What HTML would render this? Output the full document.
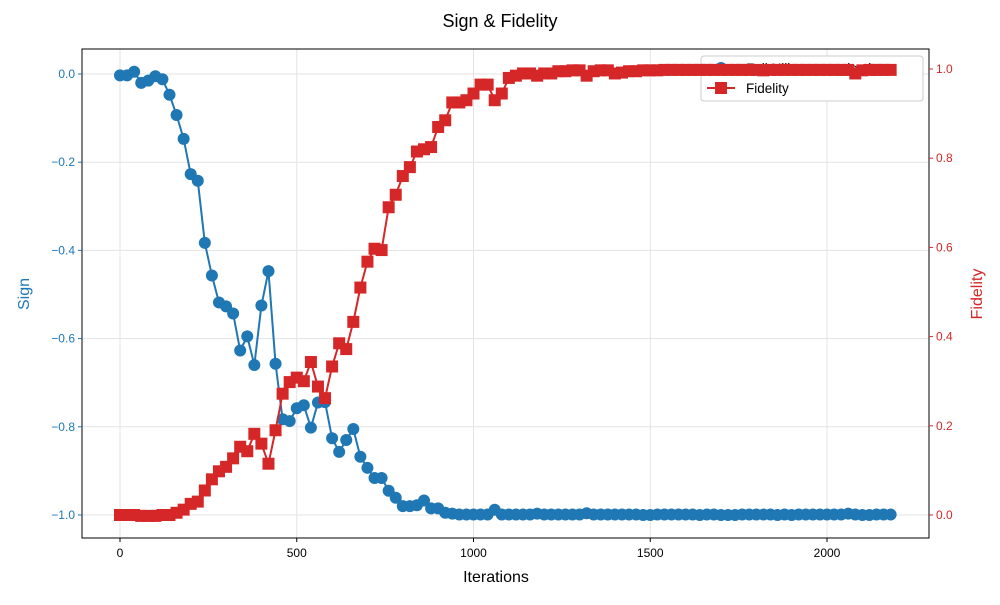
<!DOCTYPE html>
<html><head><meta charset="utf-8"><style>
body{margin:0;background:#fff;}
svg{font-family:"Liberation Sans","DejaVu Sans",sans-serif;}
</style></head><body>
<svg id="chart" width="1000" height="600">
<rect width="1000" height="600" fill="#fff"/>
<text x="500" y="27" font-size="18" text-anchor="middle" fill="#000">Sign &amp; Fidelity</text>
<g id="grid"></g>
<g id="series1"></g>
<g>
<rect x="701" y="56" width="222" height="45" rx="3" fill="#fff" stroke="#ccc"/>
<line x1="707" y1="68" x2="735" y2="68" stroke="#1f77b4" stroke-width="2"/>
<circle cx="721" cy="68" r="6" fill="#1f77b4"/>
<text x="746" y="73" font-size="13.5">Full Hilbert sample sign</text>
<line x1="707" y1="88" x2="735" y2="88" stroke="#d62728" stroke-width="2"/>
<rect x="715" y="82" width="12" height="12" fill="#d62728"/>
<text x="746" y="93" font-size="13.5">Fidelity</text>
</g>
<g id="series2"></g>
<rect x="82" y="49" width="847" height="489" fill="none" stroke="#000" stroke-width="1"/>
<g id="axes"></g>
<text x="496" y="582" font-size="16" text-anchor="middle">Iterations</text>
<text x="29" y="294" font-size="16" text-anchor="middle" fill="#1f77b4" transform="rotate(-90 29 294)">Sign</text>
<text x="982" y="294" font-size="16" text-anchor="middle" fill="#d62728" transform="rotate(-90 982 294)">Fidelity</text>
</svg>
<script>
const iterStep = 20;
const signValues = [-0.003,-0.003,0.005,-0.02,-0.015,-0.005,-0.012,-0.047,-0.093,-0.147,-0.227,-0.242,-0.383,-0.457,-0.518,-0.527,-0.543,-0.627,-0.595,-0.66,-0.525,-0.447,-0.657,-0.783,-0.787,-0.758,-0.751,-0.802,-0.745,-0.744,-0.826,-0.857,-0.83,-0.805,-0.868,-0.893,-0.916,-0.916,-0.945,-0.961,-0.98,-0.98,-0.978,-0.967,-0.985,-0.985,-0.995,-0.997,-0.999,-0.999,-0.999,-0.999,-0.999,-0.988,-0.999,-0.999,-0.999,-0.999,-0.999,-0.997,-0.999,-0.999,-0.999,-0.999,-0.999,-0.999,-0.996,-0.999,-0.999,-0.999,-0.999,-0.999,-0.999,-0.999,-1.0,-1.0,-0.999,-0.999,-0.999,-0.999,-0.999,-0.999,-1.0,-0.999,-0.999,-1.0,-1.0,-1.0,-0.999,-0.999,-0.999,-0.999,-0.999,-1.0,-0.999,-1.0,-0.999,-0.999,-0.999,-0.999,-0.999,-0.999,-0.999,-0.997,-0.999,-1.0,-1.0,-0.999,-0.999,-0.999];
const fidelityValues = [0.0,0.0,0.0,-0.002,-0.002,-0.002,0.0,0.0,0.005,0.012,0.025,0.03,0.055,0.08,0.098,0.108,0.127,0.153,0.143,0.182,0.16,0.115,0.19,0.272,0.298,0.308,0.30,0.343,0.288,0.262,0.333,0.385,0.372,0.433,0.51,0.568,0.597,0.594,0.69,0.718,0.76,0.78,0.815,0.82,0.825,0.87,0.885,0.925,0.925,0.93,0.945,0.965,0.965,0.93,0.945,0.98,0.985,0.99,0.99,0.985,0.99,0.99,0.995,0.995,0.997,0.997,0.985,0.995,0.997,0.997,0.99,0.992,0.995,0.995,0.997,0.997,0.997,0.998,0.998,0.998,0.998,0.998,0.998,0.998,0.998,0.998,0.998,0.998,0.998,0.998,0.998,0.997,0.998,0.998,0.998,0.998,0.998,0.998,0.998,0.998,0.998,0.998,0.998,0.998,0.99,0.997,0.998,0.998,0.998,0.998];
const xTicks = [0,500,1000,1500,2000];
const signTicks = [0,-0.2,-0.4,-0.6,-0.8,-1.0];
const signTickLabels = ["0.0","−0.2","−0.4","−0.6","−0.8","−1.0"];
const fidTicks = [0,0.2,0.4,0.6,0.8,1.0];
const fidTickLabels = ["0.0","0.2","0.4","0.6","0.8","1.0"];

const NS="http://www.w3.org/2000/svg";
const X0=82,X1=929,Y0=49,Y1=538;
const xScale=v=>120+v*(827-120)/2000;
const ySign=v=>74-v*441;
const yFid=v=>515-v*446;
function mk(tag,attrs,parent){const e=document.createElementNS(NS,tag);for(const k in attrs)e.setAttribute(k,attrs[k]);parent.appendChild(e);return e;}
const grid=document.getElementById('grid'),axes=document.getElementById('axes');
xTicks.forEach(t=>{const x=xScale(t);
 const g=mk('line',{x1:x,x2:x,y1:Y0,y2:Y1,stroke:'#e3e3e3','stroke-width':1},grid);
 
 
 mk('line',{x1:x,x2:x,y1:Y1,y2:Y1+4,stroke:'#000'},axes);
 const tx=mk('text',{x:x,y:Y1+19,'font-size':12,'text-anchor':'middle'},axes);tx.textContent=t;
 
 
});
signTicks.forEach((t,i)=>{const y=ySign(t);
 const g=mk('line',{x1:X0,x2:X1,y1:y,y2:y,stroke:'#e3e3e3'},grid);
 
 
 mk('line',{x1:X0-4,x2:X0,y1:y,y2:y,stroke:'#1f77b4'},axes);
 const tx=mk('text',{x:X0-7,y:y+4,'font-size':12,'text-anchor':'end',fill:'#1f77b4'},axes);tx.textContent=signTickLabels[i];
 
 
});
fidTicks.forEach((t,i)=>{const y=yFid(t);
 mk('line',{x1:X1,x2:X1+4,y1:y,y2:y,stroke:'#d62728'},axes);
 const tx=mk('text',{x:X1+7,y:y+4,'font-size':12,fill:'#d62728'},axes);tx.textContent=fidTickLabels[i];
 
 
});
function drawSeries(vals,ys,color,shape,name,parent){
 const pts=vals.map((v,i)=>[xScale(i*iterStep),ys(v)]);
 const pl=mk('polyline',{points:pts.map(p=>p.join(',')).join(' '),fill:'none',stroke:color,'stroke-width':2},parent);
 
 
 pts.forEach(p=>{let m;
  if(shape==='circle')m=mk('circle',{cx:p[0],cy:p[1],r:6,fill:color},parent);
  else m=mk('rect',{x:p[0]-6,y:p[1]-6,width:12,height:12,fill:color},parent);
  
  
 });
}
drawSeries(signValues,ySign,'#1f77b4','circle','sign',document.getElementById('series1'));
drawSeries(fidelityValues,yFid,'#d62728','square','fidelity',document.getElementById('series2'));
</script>
</body></html>
